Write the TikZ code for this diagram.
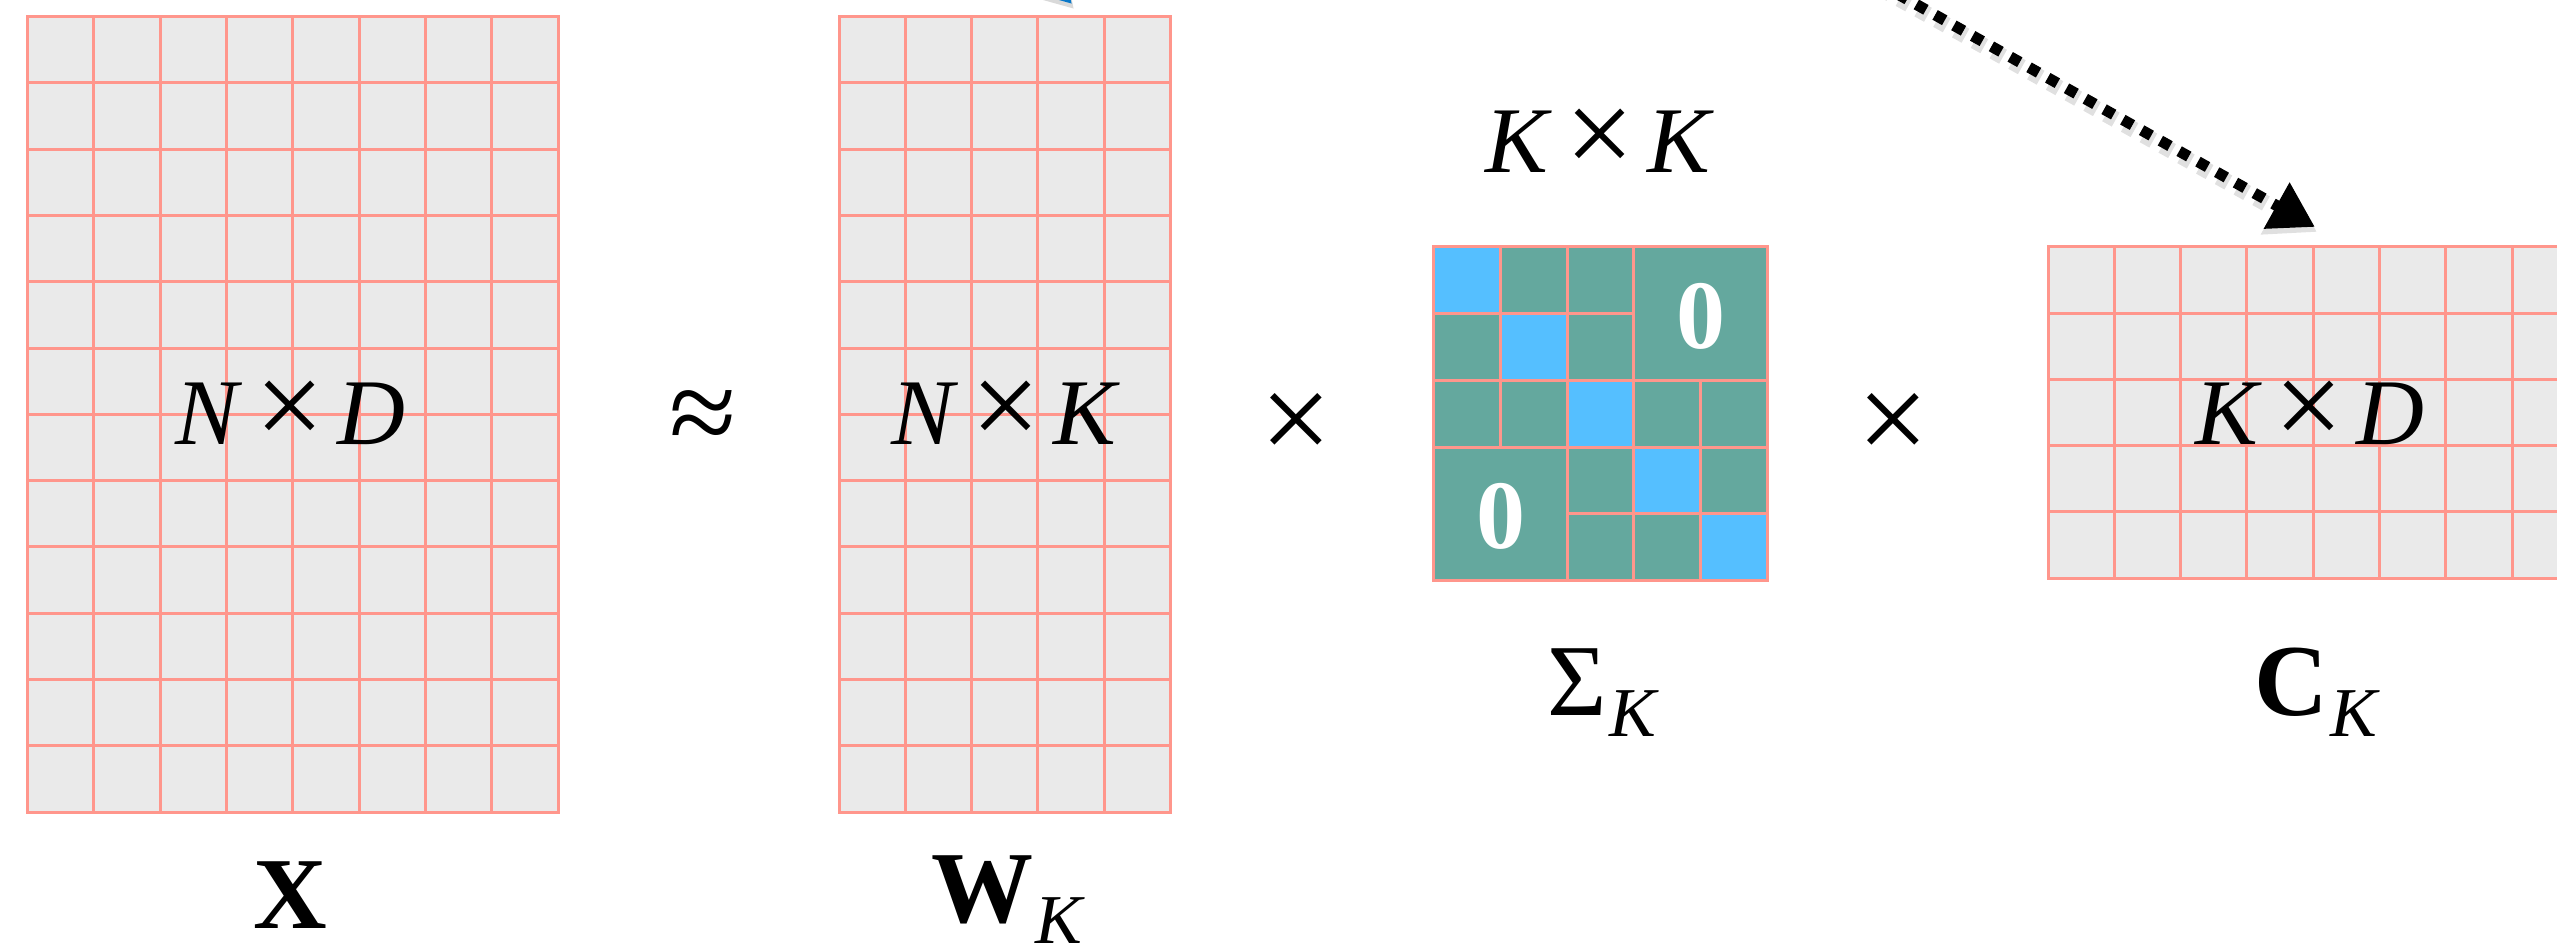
\documentclass[tikz,border=0pt]{standalone}
\usepackage{fontspec}
\setmainfont{Liberation Serif}
\usepackage{graphicx}
\usetikzlibrary{arrows.meta}

\definecolor{cellfill}{HTML}{EAEAEA}
\definecolor{gridpink}{HTML}{FF968C}
\definecolor{sigteal}{HTML}{64A89E}
\definecolor{sigblue}{HTML}{55BFFF}
\definecolor{arrowblue}{HTML}{0A78C8}

\newcommand{\dimsize}{\fontsize{94}{100}\selectfont}
\newcommand{\namesize}{\fontsize{102}{110}\selectfont}
\newcommand{\zerosize}{\fontsize{98}{100}\selectfont}
\newcommand{\bigtimes}{\raisebox{-2pt}{\scalebox{1.3}{×}}}
\newcommand{\bysign}{\hspace{13pt}\bigtimes\hspace{13pt}}
\newcommand{\subK}{\kern2pt\raisebox{-21pt}{\fontsize{70}{70}\selectfont\itshape K}}

% grey matrix of square cells: x0, y0, columns, rows, cell size
\newcommand{\cellgrid}[5]{%
  \fill[cellfill] (#1,#2) rectangle ++(#3*#5,#4*#5);
  \foreach \k in {0,...,#3} {\draw[gridline] (#1+\k*#5,#2) -- ++(0,#4*#5);}
  \foreach \k in {0,...,#4} {\draw[gridline] (#1,#2+\k*#5) -- ++(#3*#5,0);}
}

\begin{document}
\begin{tikzpicture}[x=1pt,y=-1pt,
  gridline/.style={draw=gridpink,line width=3pt,line cap=rect},
  dimlabel/.style={inner sep=0pt,font=\dimsize,anchor=base},
  opsign/.style={inner sep=0pt,font=\dimsize},
  namelabel/.style={inner sep=0pt,font=\namesize,anchor=base},
  zerolabel/.style={inner sep=0pt,text=white,font=\zerosize\bfseries},
  dotarrow/.style={line width=11pt,dash pattern=on 11pt off 10.5pt,
    -{Triangle[length=44pt,width=50pt]}},
  dotshadow/.style={line width=16pt,dash pattern=on 11pt off 10.5pt,
    draw=black,opacity=0.12,-{Triangle[length=48pt,width=56pt]}},
  bluearrow/.style={line width=11pt,draw=arrowblue,
    -{Triangle[length=44pt,width=50pt]}}]

\useasboundingbox (0,0) rectangle (2557,951);
\clip (0,0) rectangle (2557,951);

% X  (N x D)
\cellgrid{27.6}{16.5}{8}{12}{66.3}
% W_K  (N x K)
\cellgrid{839}{16.5}{5}{12}{66.3}
% C_K  (K x D), running past the right edge
\cellgrid{2048}{246.7}{8}{5}{66.3}

% Sigma_K: diagonal K x K block
\def\sigX{1433.5}\def\sigY{246.7}\def\sigS{66.8}
\fill[sigteal] (\sigX,\sigY) rectangle ++(5*\sigS,5*\sigS);
\foreach \k in {0,...,4}
  {\fill[sigblue] (\sigX+\k*\sigS,\sigY+\k*\sigS) rectangle ++(\sigS,\sigS);}
\draw[gridline] (\sigX,\sigY) rectangle ++(5*\sigS,5*\sigS);
\draw[gridline] (\sigX+\sigS,\sigY) -- ++(0,3*\sigS);
\draw[gridline] (\sigX+2*\sigS,\sigY) -- ++(0,5*\sigS);
\draw[gridline] (\sigX+3*\sigS,\sigY) -- ++(0,5*\sigS);
\draw[gridline] (\sigX+4*\sigS,\sigY+2*\sigS) -- ++(0,3*\sigS);
\draw[gridline] (\sigX,\sigY+\sigS) -- ++(3*\sigS,0);
\draw[gridline] (\sigX,\sigY+2*\sigS) -- ++(5*\sigS,0);
\draw[gridline] (\sigX,\sigY+3*\sigS) -- ++(5*\sigS,0);
\draw[gridline] (\sigX+2*\sigS,\sigY+4*\sigS) -- ++(3*\sigS,0);
\node[zerolabel] (zeroUp) at (1700.5,316) {0};
\node[zerolabel] (zeroLo) at (1501,516) {0};

% dimensions and operators
\node[dimlabel] (dimX) at (290,444) {\textit{N}\bysign\textit{D}};
\node[opsign] (approx) at (703,422.5) {\scalebox{1.3}{≈}};
\node[dimlabel] (dimW) at (1006,444) {\textit{N}\bysign\textit{K}};
\node[opsign] (timesA) at (1296,427) {\scalebox{1.35}{×}};
\node[dimlabel] (dimS) at (1600,172) {\textit{K}\bysign\textit{K}};
\node[opsign] (timesB) at (1893,427) {\scalebox{1.35}{×}};
\node[dimlabel] (dimC) at (2310,444) {\textit{K}\bysign\textit{D}};

% matrix names
\node[namelabel] (nameX) at (290,928) {\textbf{X}};
\node[namelabel] (nameW) at (1007,922) {\textbf{W}\subK};
\node[namelabel] (nameS) at (1602,715) {Σ\subK};
\node[namelabel] (nameC) at (2316,715) {\textbf{C}\subK};

% arrows coming in from above
\coordinate (dotsrc) at (1860,-27);
\coordinate (dottip) at (2315,227);
\coordinate (bluesrc) at (985,-90);
\coordinate (bluetip) at (1072,4);
\begin{scope}[transform canvas={shift={(2pt,-5pt)}}]
  \draw[dotshadow] (dotsrc) -- (dottip);
  \draw[bluearrow,draw=black,opacity=0.15] (bluesrc) -- (bluetip);
\end{scope}
\draw[dotarrow] (dotsrc) -- (dottip);
\draw[bluearrow] (bluesrc) -- (bluetip);
\end{tikzpicture}
\end{document}
